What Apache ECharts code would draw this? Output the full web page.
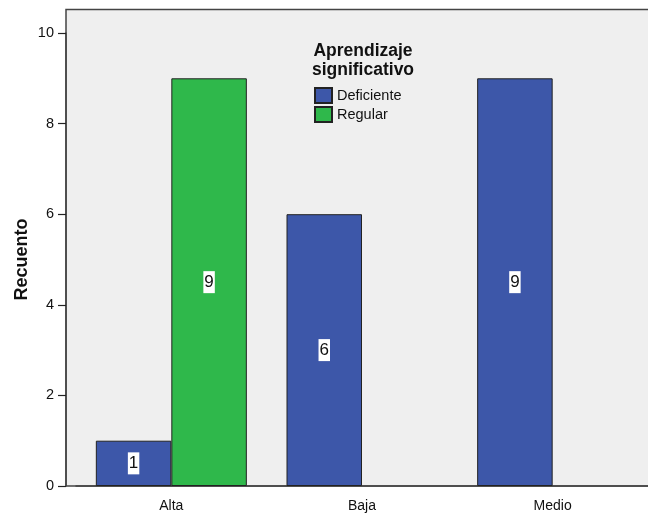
<!DOCTYPE html>
<html>
<head>
<meta charset="utf-8">
<script src="https://cdn.jsdelivr.net/npm/echarts@6/dist/echarts.min.js"></script>
<style>
  html, body { margin: 0; padding: 0; background: #ffffff; }
  #chart { width: 648px; height: 514px; }
</style>
</head>
<body>
<div id="chart"></div>
<script>
// Conteos por nivel y categoría de aprendizaje significativo
const categories = ['Alta', 'Baja', 'Medio'];
const deficiente = [1, 6, 9];
const regular = [9, null, null];
const legendTitle = 'Aprendizaje\nsignificativo';
const yAxisName = 'Recuento';

const FONT = 'Liberation Sans, Arial, sans-serif';
const chart = echarts.init(document.getElementById('chart'));

const labelStyle = {
  show: true,
  position: 'inside',
  color: '#111',
  fontFamily: FONT,
  fontSize: 17,
  lineHeight: 17,
  backgroundColor: '#ffffff',
  padding: [3, 1, 2, 1],
  formatter: p => (p.value == null ? '' : String(p.value))
};

chart.setOption({
  animation: false,
  textStyle: { fontFamily: FONT },
  title: {
    text: legendTitle,
    left: 358,
    top: 37,
    padding: 5,
    textAlign: 'center',
    textStyle: { fontFamily: FONT, fontSize: 17.5, fontWeight: 'bold', color: '#111', lineHeight: 19 }
  },
  legend: {
    orient: 'vertical',
    left: 314,
    top: 87,
    padding: 0,
    itemWidth: 17,
    itemHeight: 15,
    itemGap: 2,
    icon: 'rect',
    textStyle: { fontFamily: FONT, fontSize: 14.5, color: '#111' },
    data: ['Deficiente', 'Regular']
  },
  graphic: [{
    type: 'rect',
    z: -10,
    shape: { x: 66, y: 9.5, width: 600, height: 476.5 },
    style: { fill: '#efefef', stroke: '#444', lineWidth: 1.5 }
  }],
  grid: { left: 76, right: 0, top: 33, bottom: 28, containLabel: false, outerBoundsMode: 'none' },
  xAxis: {
    type: 'category',
    data: categories,
    axisLine: { lineStyle: { color: '#444', width: 1.5 } },
    axisTick: { alignWithLabel: true, length: 8, lineStyle: { color: '#222', width: 1.2 } },
    axisLabel: { color: '#111', fontSize: 14, margin: 13, fontFamily: FONT }
  },
  yAxis: {
    type: 'value',
    min: 0,
    max: 10,
    interval: 2,
    offset: 10,
    name: yAxisName,
    nameLocation: 'middle',
    nameGap: 35,
    nameMoveOverlap: false,
    nameRotate: 90,
    nameTextStyle: { fontFamily: FONT, fontSize: 18, fontWeight: 'bold', color: '#111' },
    axisLine: { show: true, lineStyle: { color: '#444', width: 1.5 } },
    axisTick: { show: true, length: 8, lineStyle: { color: '#222', width: 1.2 } },
    axisLabel: { color: '#111', fontSize: 14.5, margin: 12, fontFamily: FONT },
    splitLine: { show: false }
  },
  series: [
    {
      name: 'Deficiente',
      type: 'bar',
      data: deficiente,
      barWidth: 75.5,
      barGap: '0%',
      itemStyle: { color: '#3d57a9', borderColor: '#222', borderWidth: 1 },
      label: labelStyle
    },
    {
      name: 'Regular',
      type: 'bar',
      data: regular,
      barWidth: 75.5,
      barGap: '0%',
      itemStyle: { color: '#2fb84b', borderColor: '#222', borderWidth: 1 },
      label: labelStyle
    }
  ]
});
</script>
</body>
</html>
